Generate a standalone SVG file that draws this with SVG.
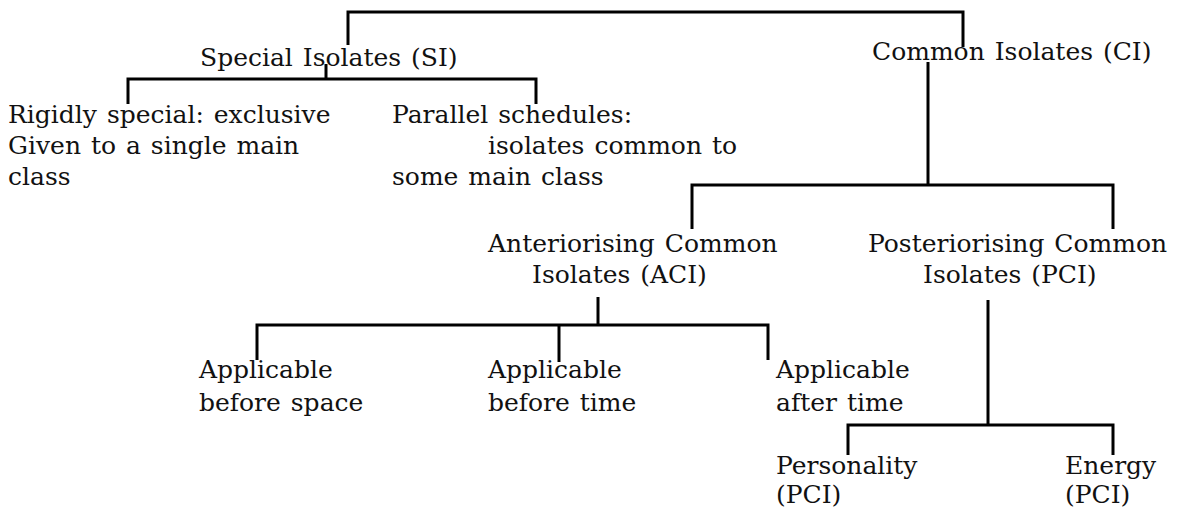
<svg xmlns="http://www.w3.org/2000/svg" width="1177" height="510" viewBox="0 0 1177 510">
<style>
text{font-family:"DejaVu Serif","Liberation Serif",serif;font-size:25px;fill:#111;word-spacing:2px}
.c{fill:none;stroke:#000;stroke-width:3;stroke-linejoin:miter;stroke-linecap:butt}
</style>
<rect width="1177" height="510" fill="#fff"/>
<g id="connectors">
<path class="c" d="M348,45 V12 H963 V47"/>
<path class="c" d="M326,64 V79"/>
<path class="c" d="M128,104 V79 H536 V104"/>
<path class="c" d="M928,62 V185"/>
<path class="c" d="M692,229 V185 H1113 V229"/>
<path class="c" d="M598,297 V325"/>
<path class="c" d="M257,360 V325 H768 V360"/>
<path class="c" d="M559,325 V362"/>
<path class="c" d="M988,300 V425"/>
<path class="c" d="M848,455 V425 H1113 V455"/>
</g>
<g id="si"><text x="200" y="66">Special Isolates (SI)</text></g>
<g id="ci"><text x="872" y="60">Common Isolates (CI)</text></g>
<g id="rigid"><text x="8" y="123">Rigidly special: exclusive</text><text x="8" y="154">Given to a single main</text><text x="8" y="185">class</text></g>
<g id="parallel"><text x="392" y="123">Parallel schedules:</text><text x="488" y="154">isolates common to</text><text x="392" y="185">some main class</text></g>
<g id="aci"><text x="488" y="252">Anteriorising Common</text><text x="532" y="283">Isolates (ACI)</text></g>
<g id="pci"><text x="868" y="252">Posteriorising Common</text><text x="923" y="283">Isolates (PCI)</text></g>
<g id="space"><text x="199" y="378">Applicable</text><text x="199" y="411">before space</text></g>
<g id="btime"><text x="488" y="378">Applicable</text><text x="488" y="411">before time</text></g>
<g id="atime"><text x="776" y="378">Applicable</text><text x="776" y="411">after time</text></g>
<g id="personality"><text x="776" y="474">Personality</text><text x="776" y="503">(PCI)</text></g>
<g id="energy"><text x="1065" y="474">Energy</text><text x="1065" y="503">(PCI)</text></g>
</svg>
